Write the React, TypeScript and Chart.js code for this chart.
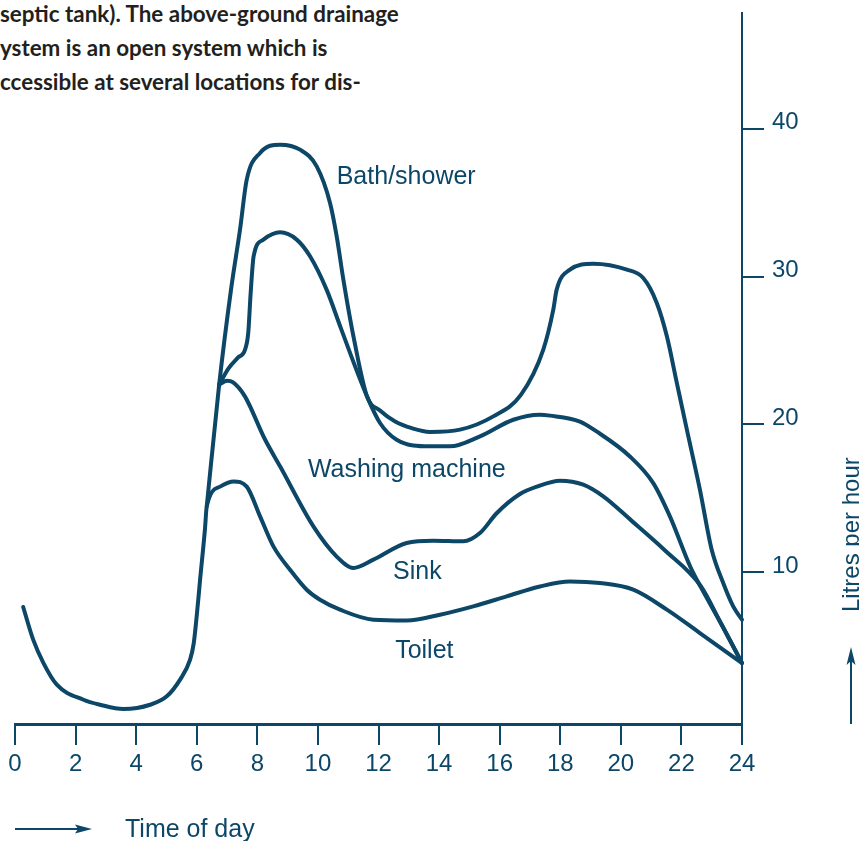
import React, { useEffect, useRef } from "react";
import { Chart, registerables } from "chart.js";

Chart.register(...registerables);

const BLUE = "#0c4768";
const INK = "#231f20";
const SANS = "'Liberation Sans', Arial, Helvetica, sans-serif";

const paragraphLines = [
  "septic tank). The above-ground drainage",
  "ystem is an open system which is",
  "ccessible at several locations for dis-",
];

const xTitle = "Time of day";
const yTitle = "Litres per hour";

const hourTicks = [0, 2, 4, 6, 8, 10, 12, 14, 16, 18, 20, 22, 24];
const litreTicks = [10, 20, 30, 40];

const seriesNames = ["Toilet", "Sink", "Washing machine", "Bath/shower"];

// Cumulative flow curves: hour of day / litres per hour
const toiletHours = [0.27, 0.6, 0.94, 1.38, 2.26, 2.81, 3.58, 4.46, 5.01, 5.45, 5.78, 5.9, 6.05, 6.11, 6.27, 6.33, 6.77, 7.22, 7.65, 8.09, 8.53, 9.08, 9.63, 10.07, 10.73, 11.83, 12.93, 14.03, 15.13, 16.23, 17.33, 18.32, 19.31, 20.41, 21.52, 22.61, 24];
const toiletLitres = [7.66, 5.45, 3.87, 2.41, 1.39, 1.05, 0.76, 1.05, 1.62, 2.75, 4.1, 5.2, 8.15, 9.5, 12.9, 14.46, 15.8, 16.15, 15.8, 13.79, 11.76, 10.18, 8.83, 8.15, 7.48, 6.8, 6.75, 7.14, 7.7, 8.38, 9.05, 9.39, 9.28, 8.83, 7.48, 5.9, 3.87];

const sinkHours = [6.74, 7.0, 7.2, 7.59, 8.25, 8.75, 9.85, 10.62, 11.17, 11.83, 12.93, 13.81, 14.8, 15.35, 15.9, 16.67, 17.23, 17.99, 18.76, 19.42, 20.35, 21.45, 22.63, 23.33, 24];
const sinkLitres = [22.7, 22.95, 22.85, 21.9, 19.0, 17.17, 13.11, 11.07, 10.3, 10.86, 11.99, 12.14, 12.1, 12.66, 14.0, 15.3, 15.8, 16.2, 15.93, 15.14, 13.5, 11.5, 9.1, 6.46, 3.87];

const washingHours = [6.74, 7.05, 7.35, 7.6, 7.7, 7.78, 7.88, 8.2, 8.75, 9.3, 9.74, 10.29, 10.76, 11.62, 12.05, 12.6, 13.7, 14.36, 15.35, 16.45, 17.33, 17.66, 18.65, 19.2, 20.3, 21.07, 21.62, 22.29, 22.65, 23.33, 24];
const washingLitres = [22.7, 23.8, 24.5, 25.1, 26.2, 28.9, 31.4, 32.5, 32.99, 32.5, 31.37, 29.1, 26.5, 21.9, 20.1, 18.97, 18.52, 18.52, 19.2, 20.32, 20.66, 20.6, 20.2, 19.53, 17.84, 16.04, 13.79, 10.4, 8.97, 6.46, 3.87];

const bathHours = [6.33, 6.74, 7.13, 7.43, 7.65, 8.09, 8.75, 9.41, 9.96, 10.4, 10.62, 10.84, 11.15, 11.62, 12.05, 12.55, 13.1, 13.7, 14.69, 15.79, 16.7, 17.44, 17.77, 17.88, 18.32, 19.09, 20.2, 20.74, 21.19, 21.52, 21.85, 22.18, 22.61, 23.0, 23.38, 23.71, 24];
const bathLitres = [14.46, 22.7, 29.1, 33.2, 36.55, 38.36, 38.92, 38.58, 37.45, 34.98, 32.72, 29.79, 26.2, 21.9, 20.95, 20.2, 19.75, 19.5, 19.65, 20.55, 22.0, 25.06, 27.76, 29.1, 30.47, 30.87, 30.47, 29.9, 28.2, 25.96, 22.8, 19.65, 15.6, 11.53, 9.28, 7.7, 6.8];

// Curve label anchors (hour, litres at text baseline)
const labelTexts = ["Bath/shower", "Washing machine", "Sink", "Toilet"];
const labelHours = [10.62, 9.67, 12.48, 12.55];
const labelLitres = [36.28, 16.47, 9.57, 4.21];

const pts = (h: number[], v: number[]) => h.map((hh, i) => ({ x: hh, y: v[i] }));

export default function App() {
  const ref = useRef<HTMLCanvasElement>(null);

  useEffect(() => {
    const canvas = ref.current!;
    const lineStyle: any = {
      borderColor: BLUE,
      borderWidth: 4,
      pointRadius: 0,
      fill: false,
      tension: 0.4,
      cubicInterpolationMode: "monotone",
      borderCapStyle: "round",
      borderJoinStyle: "round",
      clip: false,
    };

    const extras = {
      id: "extras",
      afterDraw(chart: any) {
        const { ctx } = chart;
        const xs = chart.scales.x;
        const ys = chart.scales.y;
        ctx.save();
        ctx.fillStyle = BLUE;
        ctx.strokeStyle = BLUE;
        ctx.textAlign = "left";
        ctx.textBaseline = "alphabetic";
        ctx.font = `25px ${SANS}`;
        labelTexts.forEach((t, i) => {
          ctx.fillText(t, xs.getPixelForValue(labelHours[i]), ys.getPixelForValue(labelLitres[i]));
        });

        // x title with arrow
        const ay = xs.bottom - 12;
        ctx.lineWidth = 2;
        ctx.beginPath();
        ctx.moveTo(xs.left, ay);
        ctx.lineTo(xs.left + 70, ay);
        ctx.stroke();
        ctx.beginPath();
        ctx.moveTo(xs.left + 77, ay);
        ctx.lineTo(xs.left + 60, ay - 4.5);
        ctx.lineTo(xs.left + 63, ay);
        ctx.lineTo(xs.left + 60, ay + 4.5);
        ctx.closePath();
        ctx.fill();
        ctx.font = `25px ${SANS}`;
        ctx.fillText(xTitle, xs.left + 110, xs.bottom - 4);

        // y title (rotated) with arrow
        ctx.save();
        ctx.translate(858.5, 612);
        ctx.rotate(-Math.PI / 2);
        ctx.font = `24px ${SANS}`;
        ctx.fillText(yTitle, 0, 0);
        ctx.restore();
        const axx = 851;
        ctx.lineWidth = 2;
        ctx.beginPath();
        ctx.moveTo(axx, ys.bottom);
        ctx.lineTo(axx, 660);
        ctx.stroke();
        ctx.beginPath();
        ctx.moveTo(axx, 647);
        ctx.lineTo(axx - 4.5, 665);
        ctx.lineTo(axx, 661);
        ctx.lineTo(axx + 4.5, 665);
        ctx.closePath();
        ctx.fill();
        ctx.restore();
      },
    };

    const chart = new Chart(canvas, {
      type: "line",
      data: {
        datasets: [
          { label: seriesNames[0], data: pts(toiletHours, toiletLitres), ...lineStyle },
          { label: seriesNames[1], data: pts(sinkHours, sinkLitres), ...lineStyle },
          { label: seriesNames[2], data: pts(washingHours, washingLitres), ...lineStyle },
          { label: seriesNames[3], data: pts(bathHours, bathLitres), ...lineStyle },
        ],
      },
      options: {
        responsive: false,
        animation: false,
        devicePixelRatio: 1,
        layout: { padding: { left: 15, top: 13, right: 0, bottom: 0 } },
        plugins: { legend: { display: false }, tooltip: { enabled: false } },
        scales: {
          x: {
            type: "linear",
            min: 0,
            max: 24,
            afterBuildTicks: (s: any) => {
              s.ticks = hourTicks.map((v) => ({ value: v }));
            },
            afterFit: (s: any) => {
              s.height = 117;
              s.paddingLeft = 0;
              s.paddingRight = 0;
            },
            grid: { drawOnChartArea: false, drawTicks: true, tickLength: 21, color: BLUE, lineWidth: 2 },
            border: { display: true, color: BLUE, width: 3 },
            ticks: {
              color: BLUE,
              font: { family: SANS, size: 24 },
              padding: 5,
              maxRotation: 0,
              autoSkip: false,
              callback: (v: any) => String(v),
            },
          },
          y: {
            type: "linear",
            position: "right",
            min: -0.25,
            max: 47.82,
            afterBuildTicks: (s: any) => {
              s.ticks = litreTicks.map((v) => ({ value: v }));
            },
            afterFit: (s: any) => {
              s.width = 117;
              s.paddingTop = 0;
              s.paddingBottom = 0;
            },
            grid: { drawOnChartArea: false, drawTicks: true, tickLength: 22, color: BLUE, lineWidth: 2 },
            border: { display: true, color: BLUE, width: 2 },
            ticks: {
              color: BLUE,
              font: { family: SANS, size: 24 },
              padding: 8,
              labelOffset: -6,
              callback: (v: any) => String(v),
            },
          },
        },
      } as any,
      plugins: [extras],
    });
    return () => chart.destroy();
  }, []);

  return (
    <div style={{ position: "absolute", left: 0, top: 0, width: 859, height: 841, background: "#fff", overflow: "hidden" }}>
      {paragraphLines.map((line, i) => (
        <div
          key={i}
          style={{
            position: "absolute",
            left: 0,
            top: -3.5 + i * 34,
            fontFamily: "Lato, 'Open Sans', sans-serif",
            fontWeight: 700,
            fontSize: 22.4,
            lineHeight: "33.5px",
            color: INK,
            whiteSpace: "nowrap",
          }}
        >
          {line}
        </div>
      ))}
      <canvas ref={ref} width={859} height={841} style={{ position: "absolute", left: 0, top: 0 }} />
    </div>
  );
}
